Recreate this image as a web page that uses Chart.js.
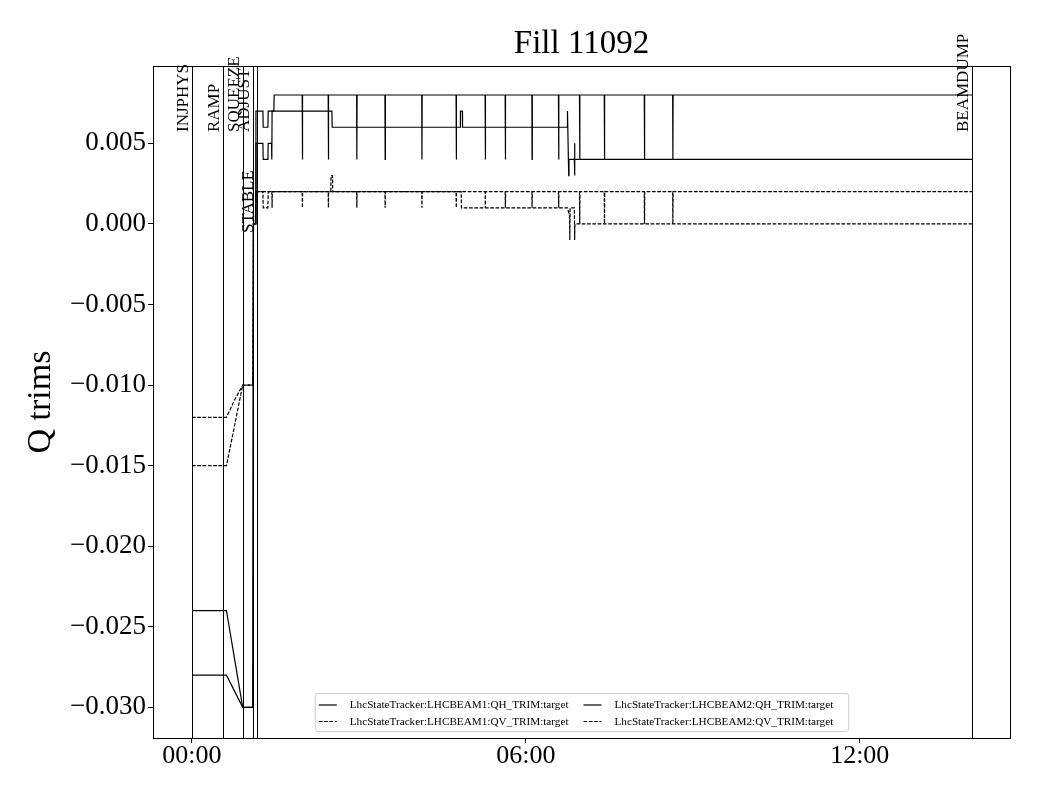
<!DOCTYPE html>
<html>
<head>
<meta charset="utf-8">
<script src="https://cdn.jsdelivr.net/npm/chart.js@4.4.1/dist/chart.umd.min.js"></script>
<style>
  html, body { margin: 0; padding: 0; background: #fff; }
</style>
</head>
<body>
<canvas id="qChart" width="1040" height="800"></canvas>
<script>
// time in hours after INJPHYS, values are the trim targets
const b1qhT = [0, 0.62, 0.912, 1.095, 1.105, 1.14, 1.15, 1.275, 1.28, 1.365, 1.37, 1.472, 1.477,
  1.981, 1.985, 1.989, 2.448, 2.452, 2.456, 2.959, 2.963, 2.967, 3.468, 3.472, 3.476,
  4.129, 4.133, 4.137, 4.746, 4.750, 4.754, 5.268, 5.272, 5.276, 5.628, 5.632, 5.636,
  6.108, 6.112, 6.116, 6.586, 6.590, 6.594, 6.964, 6.968, 6.972, 7.409, 7.413, 7.417,
  8.128, 8.132, 8.136, 8.638, 8.642, 8.646, 14.016];
const b1qhV = [-0.024, -0.024, -0.030, -0.030, 0.000, 0.000, 0.007, 0.007, 0.006, 0.006, 0.007, 0.007, 0.008,
  0.008, 0.004, 0.008, 0.008, 0.004, 0.008, 0.008, 0.004, 0.008, 0.008, 0.004, 0.008,
  0.008, 0.004, 0.008, 0.008, 0.004, 0.008, 0.008, 0.004, 0.008, 0.008, 0.004, 0.008,
  0.008, 0.004, 0.008, 0.008, 0.004, 0.008, 0.008, 0.004, 0.008, 0.008, 0.004, 0.008,
  0.008, 0.004, 0.008, 0.008, 0.004, 0.008, 0.008];

const b1qvT = [0, 0.62, 0.77, 0.912, 1.095, 1.105, 1.14, 1.15, 1.275, 1.28, 1.365, 1.37, 1.436, 1.44, 1.444,
  1.981, 1.985, 1.989, 2.448, 2.452, 2.456, 2.959, 2.963, 2.967, 3.468, 3.472, 3.476,
  4.129, 4.133, 4.137, 4.746, 4.750, 4.754, 5.268, 5.272, 5.276, 5.628, 5.632, 5.636,
  6.108, 6.112, 6.116, 6.586, 6.590, 6.594, 6.964, 6.968, 6.972, 7.409, 7.413, 7.417,
  8.128, 8.132, 8.136, 8.638, 8.642, 8.646, 14.016];
const b1qvV = [-0.012, -0.012, -0.0109, -0.010, -0.010, 0.000, 0.000, 0.002, 0.002, 0.001, 0.001, 0.002, 0.002, 0.001, 0.002,
  0.002, 0.001, 0.002, 0.002, 0.001, 0.002, 0.002, 0.001, 0.002, 0.002, 0.001, 0.002,
  0.002, 0.001, 0.002, 0.002, 0.001, 0.002, 0.002, 0.001, 0.002, 0.002, 0.001, 0.002,
  0.002, 0.001, 0.002, 0.002, 0.001, 0.002, 0.002, 0.000, 0.002, 0.002, 0.000, 0.002,
  0.002, 0.000, 0.002, 0.002, 0.000, 0.002, 0.002];

const b2qhT = [0, 0.62, 0.912, 1.095, 1.105, 1.14, 1.15, 1.275, 1.28, 1.365, 1.37, 1.43, 1.435, 1.44,
  2.515, 2.52, 4.82, 4.824, 4.858, 4.862, 6.745, 6.748, 6.77, 6.775, 6.872, 6.875, 6.878, 6.882, 14.016];
const b2qhV = [-0.028, -0.028, -0.030, -0.030, 0.000, 0.000, 0.005, 0.005, 0.004, 0.004, 0.005, 0.005, 0.004, 0.007,
  0.007, 0.006, 0.006, 0.007, 0.007, 0.006, 0.006, 0.007, 0.003, 0.004, 0.004, 0.005, 0.003, 0.004, 0.004];

const b2qvT = [0, 0.62, 0.912, 1.095, 1.105, 1.14, 1.15, 2.495, 2.499, 2.526, 2.53, 4.838, 4.842,
  6.748, 6.785, 6.79, 6.795, 6.872, 6.877, 6.882, 14.016];
const b2qvV = [-0.015, -0.015, -0.010, -0.010, 0.000, 0.000, 0.002, 0.002, 0.003, 0.003, 0.002, 0.002, 0.001,
  0.001, 0.0005, -0.001, 0.001, 0.001, -0.001, 0.000, 0.000];

const seriesLabels = [
  'LhcStateTracker:LHCBEAM1:QH_TRIM:target',
  'LhcStateTracker:LHCBEAM1:QV_TRIM:target',
  'LhcStateTracker:LHCBEAM2:QH_TRIM:target',
  'LhcStateTracker:LHCBEAM2:QV_TRIM:target'
];

const phaseNames = ['INJPHYS', 'RAMP', 'SQUEEZE', 'ADJUST', 'STABLE', 'BEAMDUMP'];
const phaseTimes = [0, 0.558, 0.918, 1.097, 1.169, 14.016];

const yTicks = [-0.030, -0.025, -0.020, -0.015, -0.010, -0.005, 0.000, 0.005];
const xTickHours = [0, 6, 12];
const xTickLabels = ['00:00', '06:00', '12:00'];

const SERIF = '"Liberation Serif", "Times New Roman", serif';
const DASH = [3.7, 1.6];

const pts = (ts, vs) => ts.map((t, i) => ({ x: t, y: vs[i] }));

function lineSet(label, ts, vs, dashed) {
  return {
    label,
    data: pts(ts, vs),
    borderColor: '#000',
    borderWidth: 1.2,
    borderDash: dashed ? DASH : [],
    pointRadius: 0,
    tension: 0,
    fill: false
  };
}

// vertical beam-mode markers with rotated names
const phasePlugin = {
  id: 'phases',
  afterDatasetsDraw(chart) {
    const { ctx, chartArea: a, scales: { x } } = chart;
    ctx.save();
    ctx.strokeStyle = '#000';
    ctx.fillStyle = '#000';
    ctx.lineWidth = 1;
    ctx.font = '17px ' + SERIF;
    phaseTimes.forEach((t, i) => {
      const px = Math.round(x.getPixelForValue(t)) + 0.5;
      ctx.beginPath();
      ctx.moveTo(px, a.top);
      ctx.lineTo(px, a.bottom);
      ctx.stroke();
      ctx.save();
      ctx.translate(px - 5, a.top + (phaseNames[i] === 'STABLE' ? 167 : 66));
      ctx.rotate(-Math.PI / 2);
      ctx.textAlign = 'left';
      ctx.textBaseline = 'alphabetic';
      ctx.fillText(phaseNames[i], 0, 0);
      ctx.restore();
    });
    ctx.restore();
  }
};

// box legend in two columns, drawn inside the plot at the bottom
const legendPlugin = {
  id: 'boxLegend',
  afterDraw(chart) {
    const { ctx, chartArea: a } = chart;
    const ds = chart.data.datasets;
    const cols = [[ds[0], ds[1]], [ds[2], ds[3]]];
    ctx.save();
    ctx.font = '11.2px ' + SERIF;
    const colW = cols.map(c => Math.max(...c.map(d => ctx.measureText(d.label).width)));
    const hLen = 18, hGap = 13, colGap = 15;
    const w = 4 + hLen + hGap + colW[0] + colGap + hLen + hGap + colW[1] + 15;
    const h = 38;
    const left = (a.left + a.right) / 2 - w / 2;
    const bottom = a.bottom - 7;
    const top = bottom - h;

    ctx.beginPath();
    ctx.roundRect(left + 0.5, top + 0.5, w, h, 3);
    ctx.fillStyle = 'rgba(255,255,255,0.8)';
    ctx.fill();
    ctx.strokeStyle = '#cccccc';
    ctx.lineWidth = 1;
    ctx.stroke();

    let cx = left + 4;
    cols.forEach((c, ci) => {
      c.forEach((d, ri) => {
        const y = top + 12 + ri * 16.5;
        ctx.beginPath();
        ctx.setLineDash(d.borderDash || []);
        ctx.strokeStyle = '#000';
        ctx.lineWidth = 1.2;
        ctx.moveTo(cx, y);
        ctx.lineTo(cx + hLen, y);
        ctx.stroke();
        ctx.setLineDash([]);
        ctx.fillStyle = '#000';
        ctx.textBaseline = 'middle';
        ctx.fillText(d.label, cx + hLen + hGap, y + 0.5);
      });
      cx += hLen + hGap + colW[ci] + colGap;
    });
    ctx.restore();
  }
};

// full black frame around the axes
const framePlugin = {
  id: 'frame',
  afterDraw(chart) {
    const { ctx, chartArea: a } = chart;
    ctx.save();
    ctx.strokeStyle = '#000';
    ctx.lineWidth = 1;
    ctx.strokeRect(Math.round(a.left) + 0.5, Math.round(a.top) + 0.5,
      Math.round(a.right - a.left), Math.round(a.bottom - a.top));
    ctx.restore();
  }
};

new Chart(document.getElementById('qChart'), {
  type: 'line',
  data: {
    datasets: [
      lineSet(seriesLabels[0], b1qhT, b1qhV, false),
      lineSet(seriesLabels[1], b1qvT, b1qvV, true),
      lineSet(seriesLabels[2], b2qhT, b2qhV, false),
      lineSet(seriesLabels[3], b2qvT, b2qvV, true)
    ]
  },
  options: {
    responsive: false,
    animation: false,
    devicePixelRatio: 1,
    layout: { padding: { left: 0, right: 30, top: 0, bottom: 0 } },
    plugins: {
      legend: { display: false },
      tooltip: { enabled: false },
      title: {
        display: true,
        text: 'Fill 11092',
        fullSize: false,
        color: '#000',
        font: { family: SERIF, size: 33, weight: 'normal' },
        padding: { top: 25, bottom: 1.4 }
      }
    },
    scales: {
      x: {
        type: 'linear',
        min: -0.70,
        max: 14.70,
        afterBuildTicks: s => { s.ticks = xTickHours.map(v => ({ value: v })); },
        afterFit: s => { s.height = 62; },
        ticks: {
          callback: (v, i) => xTickLabels[i],
          color: '#000',
          font: { family: SERIF, size: 26 },
          padding: -2,
          maxRotation: 0,
          autoSkip: false
        },
        grid: { drawOnChartArea: false, drawTicks: true, tickLength: 5, color: '#000' },
        border: { display: true, color: '#000' }
      },
      y: {
        min: -0.0319,
        max: 0.0098,
        afterBuildTicks: s => { s.ticks = yTicks.map(v => ({ value: v })); },
        afterFit: s => { s.width = 153; },
        ticks: {
          callback: v => (v < 0 ? '\u2212' : '') + Math.abs(v).toFixed(3),
          color: '#000',
          font: { family: SERIF, size: 27 },
          padding: 2
        },
        grid: { drawOnChartArea: false, drawTicks: true, tickLength: 5, color: '#000' },
        border: { display: true, color: '#000' },
        title: {
          display: true,
          text: 'Q trims',
          color: '#000',
          font: { family: SERIF, size: 34 },
          padding: { top: 21, bottom: 0 }
        }
      }
    }
  },
  plugins: [phasePlugin, legendPlugin, framePlugin]
});
</script>
</body>
</html>
